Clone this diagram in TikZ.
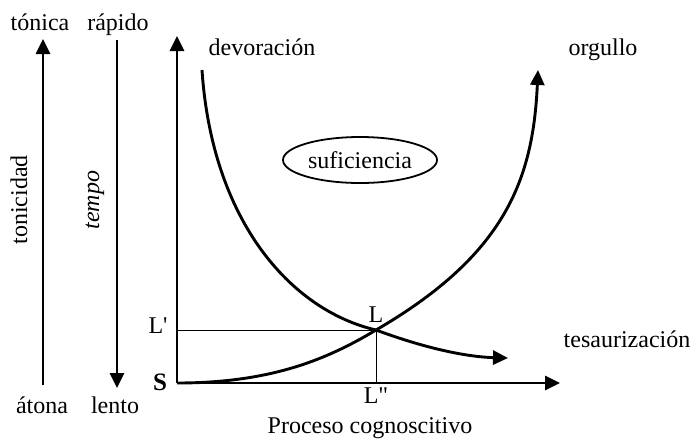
\documentclass[tikz,border=0pt]{standalone}
\usepackage{fontspec}
\setmainfont{Liberation Serif}[Ligatures=TeXOff]
\usetikzlibrary{arrows.meta, shapes.geometric}

\tikzset{
  thickarrow/.style={line width=2.9pt, -{Triangle[length=15pt,width=14pt]}},
  guide/.style={line width=1pt},
  lbl/.style={font=\fontsize{24}{26}\selectfont, inner sep=0pt, anchor=base},
}

\begin{document}
\begin{tikzpicture}[x=1pt,y=-1pt]
        \useasboundingbox (0,0) rectangle (692,440);

        % axes
        \coordinate (S) at (177,383);
        \coordinate (ytop) at (177,36);
        \coordinate (xend) at (560,383);
        \coordinate (L) at (376,330);
        \coordinate (Lp) at (177,330);
        \coordinate (Lpp) at (376,383);
        \coordinate (devstart) at (202,70);
        \coordinate (devend) at (508,358);
        \coordinate (orgend) at (538,70);

        % left scales
        \coordinate (tonlow) at (43,385);
        \coordinate (tonhigh) at (43,39);
        \coordinate (temhigh) at (117,40);
        \coordinate (temlow) at (117,388);

        \node[lbl] (tonica) at (40,30) {tónica};
        \node[lbl] (rapido) at (118,30) {rápido};
        \node[lbl] (atona) at (42,413) {átona};
        \node[lbl] (lento) at (115,413) {lento};
        \node[lbl, anchor=center, rotate=90] (tonicidad) at (19,200) {tonicidad};
        \node[lbl, anchor=center, rotate=90] (tempo) at (95,200) {\itshape tempo};

        \node[lbl, font=\fontsize{25}{26}\selectfont\bfseries] (s) at (160,390) {S};
        \node[lbl] (lp) at (158,333) {L'};
        \node[lbl] (l) at (376,322) {L};
        \node[lbl] (lpp) at (376,403) {L"};
        \node[lbl] (proceso) at (370,433) {Proceso cognoscitivo};
        \node[lbl] (devoracion) at (262,55) {devoración};
        \node[lbl] (orgullo) at (603,55) {orgullo};
        \node[lbl] (tesaurizacion) at (627,347) {tesaurización};
        \node[ellipse, draw, line width=1.8pt, minimum width=154pt, minimum height=46pt,
              inner sep=0pt, font=\fontsize{24}{26}\selectfont] (suficiencia) at (360,160) {suficiencia};

        \draw[thickarrow] (tonlow) -- (tonhigh);
        \draw[thickarrow] (temhigh) -- (temlow);
        \draw[thickarrow] (S) -- (ytop);
        \draw[thickarrow] (S) -- (xend);

        \draw[guide] (Lp) -- (L) -- (Lpp);

        \draw[thickarrow] (devstart) .. controls (212,220) and (290,310) .. (L)
            .. controls (430,350) and (470,357) .. (devend);
        \draw[thickarrow] (S) .. controls (270,383) and (326,360) .. (L)
            .. controls (505,255) and (533,180) .. (orgend);
    \end{tikzpicture}
\end{document}
